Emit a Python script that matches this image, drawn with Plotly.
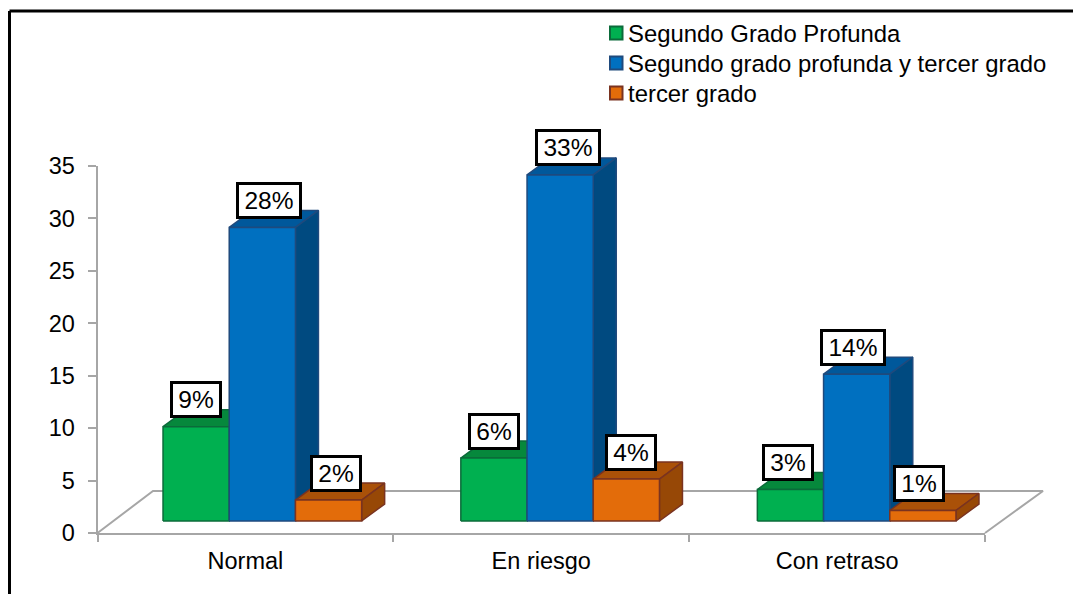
import plotly.graph_objects as go

categories = ["Normal", "En riesgo", "Con retraso"]
series_names = ["Segundo Grado Profunda", "Segundo grado profunda y tercer grado", "tercer grado"]
segundo_profunda = [9, 6, 3]
segundo_tercer = [28, 33, 14]
tercer = [2, 4, 1]
label_shift = [[0, 0, -2], [7, 8, -4], [7, 5, -4]]

W, H = 1073, 594
AX_L, AX_R, AX_T, AX_B = 97.5, 985.0, 166.0, 533.0
PX_X = (AX_R - AX_L) / 3
PX_Y = (AX_B - AX_T) / 35

FRONT = ["#00B050", "#0070C0", "#E36C0A"]
TOP = ["#06883C", "#00589B", "#AA5108"]
SIDE = ["#06783A", "#004A80", "#974806"]
EDGE = ["#0B6B3A", "#1F4A7D", "#7A3320"]
FONT = "Liberation Sans, Arial, sans-serif"
FS = 23.5

BASE = 12 / PX_Y
DX, DY = 23 / PX_X, 17 / PX_Y
FLOOR_DX, FLOOR_DY, FLOOR_RX = 55.5 / PX_X, 42 / PX_Y, (1043 - AX_L) / PX_X
BAR_W = 0.2238
GROUP_START = [0.2215, 0.2282, 0.2305]

fig = go.Figure()

# real axes
fig.add_trace(go.Scatter(x=[0, 3], y=[0, 35], mode="markers", marker=dict(opacity=0),
                         showlegend=False, hoverinfo="skip"))

# floor
fig.add_trace(go.Scatter(x=[0, FLOOR_DX, FLOOR_RX, 3], y=[0, FLOOR_DY, FLOOR_DY, 0],
                         xaxis="x2", yaxis="y2", mode="lines",
                         line=dict(color="#A6A6A6", width=2), showlegend=False, hoverinfo="skip"))

def poly(xs, ys, fill, edge, name):
    fig.add_trace(go.Scatter(x=xs + xs[:1], y=ys + ys[:1], xaxis="x2", yaxis="y2", name=name,
                             mode="lines", fill="toself", fillcolor=fill,
                             line=dict(color=edge, width=1.5), showlegend=False, hoverinfo="skip"))

series = [segundo_profunda, segundo_tercer, tercer]
annotations = []
for g in range(3):
    for s in range(3):
        v = series[s][g]
        x0 = g + GROUP_START[g] + s * BAR_W
        x1 = x0 + BAR_W
        t = BASE + v
        nm = series_names[s]
        poly([x0, x1, x1 + DX, x0 + DX], [t, t, t + DY, t + DY], TOP[s], EDGE[s], nm)
        poly([x1, x1 + DX, x1 + DX, x1], [BASE, BASE + DY, t + DY, t], SIDE[s], EDGE[s], nm)
        poly([x0, x1, x1, x0], [BASE, BASE, t, t], FRONT[s], EDGE[s], nm)
        annotations.append(dict(x=(x0 + x1) / 2, y=t, xref="x2", yref="y2", text=f"{v}%",
                                showarrow=False, xshift=label_shift[s][g], yshift=27,
                                bgcolor="white", bordercolor="black", borderwidth=3, borderpad=0,
                                width=60 if v >= 10 else 46, height=31,
                                font=dict(family=FONT, size=24.5, color="black")))

# legend
shapes = [
    dict(type="line", xref="paper", yref="paper", x0=9.5 / W, x1=1, y0=1 - 11 / H, y1=1 - 11 / H,
         line=dict(color="black", width=3)),
    dict(type="line", xref="paper", yref="paper", x0=9.5 / W, x1=9.5 / W, y0=0, y1=1 - 11 / H,
         line=dict(color="black", width=3)),
]
for s, name in enumerate(series_names):
    cy = 33 + 30 * s
    shapes.append(dict(type="rect", xref="paper", yref="paper", x0=610 / W, x1=622.5 / W,
                       y0=1 - (cy - 6.5) / H, y1=1 - (cy + 6.5) / H, fillcolor=FRONT[s],
                       line=dict(color=EDGE[s], width=2)))
    annotations.append(dict(x=627 / W, y=1 - cy / H, xref="paper", yref="paper", text=name,
                            showarrow=False, xanchor="left", yanchor="middle", borderpad=0,
                            font=dict(family=FONT, size=23.9, color="black")))

fig.update_layout(
    width=W, height=H, margin=dict(l=0, r=0, t=0, b=0, pad=0, autoexpand=False),
    paper_bgcolor="white", plot_bgcolor="rgba(0,0,0,0)",
    font=dict(family=FONT, color="black", size=FS),
    hovermode=False, showlegend=False,
    xaxis=dict(domain=[AX_L / W, AX_R / W], range=[0, 3], tickmode="array",
               tickvals=[0.5, 1.5, 2.5], ticktext=categories, ticks="", ticklen=0,
               ticklabelstandoff=6, showgrid=False, zeroline=False,
               showline=True, linecolor="#A6A6A6", linewidth=2,
               tickfont=dict(size=FS, color="black"),
               minor=dict(tickmode="array", tickvals=[0, 1, 2, 3], ticks="outside",
                          ticklen=7, tickcolor="#A6A6A6", tickwidth=2, showgrid=False),
               fixedrange=True),
    yaxis=dict(domain=[(H - AX_B) / H, (H - AX_T) / H], range=[0, 35], tickvals=list(range(0, 36, 5)),
               ticks="outside", ticklen=8, tickcolor="#A6A6A6", tickwidth=2,
               ticklabelstandoff=8, showgrid=False, zeroline=False,
               showline=True, linecolor="#A6A6A6", linewidth=2,
               tickfont=dict(size=FS, color="black"), fixedrange=True),
    xaxis2=dict(domain=[0, 1], range=[-AX_L / PX_X, (W - AX_L) / PX_X], visible=False, fixedrange=True),
    yaxis2=dict(domain=[0, 1], range=[(AX_B - H) / PX_Y, AX_B / PX_Y], visible=False, fixedrange=True),
    annotations=annotations,
    shapes=shapes,
)

fig.write_html("out.html", post_script="document.body.style.margin='0';", config={"displayModeBar": False})
